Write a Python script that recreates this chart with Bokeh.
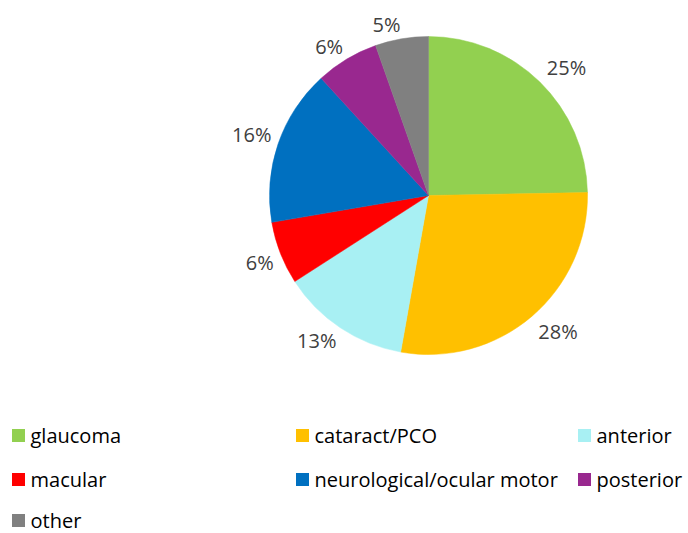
import math
from bokeh.plotting import figure
from bokeh.models import Range1d, ColumnDataSource
from bokeh.core.properties import value
from bokeh.embed import file_html
from bokeh.resources import INLINE

# ---- data ----
categories = ["glaucoma", "cataract/PCO", "anterior", "macular",
              "neurological/ocular motor", "posterior", "other"]
shares = [24.7, 28.1, 13.1, 6.4, 15.9, 6.4, 5.4]
pct_labels = ["25%", "28%", "13%", "6%", "16%", "6%", "5%"]
colors = ["#92D050", "#FFC000", "#A8F0F3", "#FF0000",
          "#0070C0", "#99288F", "#808080"]

W, H = 688, 533
FONT = "Open Sans"

p = figure(width=W, height=H, output_backend="svg", toolbar_location=None,
           x_range=Range1d(0, W), y_range=Range1d(0, H),
           min_border=0, x_axis_location=None, y_axis_location=None)
p.grid.visible = False
p.outline_line_color = None
p.background_fill_color = "white"
p.border_fill_color = "white"

# page coords: y_data = H - y_page
cx, cy, r = 428, H - 195, 159

total = sum(shares)
starts, ends, mids = [], [], []
acc = 0.0
for s in shares:
    a0 = math.pi / 2 - 2 * math.pi * acc / total
    acc += s
    a1 = math.pi / 2 - 2 * math.pi * acc / total
    starts.append(a1)
    ends.append(a0)
    mids.append((a0 + a1) / 2)

src = ColumnDataSource(dict(start=starts, end=ends, color=colors, cat=categories))
p.wedge(x=cx, y=cy, radius=r, start_angle="start", end_angle="end",
        fill_color="color", line_color="color", line_width=0.5, source=src)

# data labels (outside end)
for lab, th in zip(pct_labels, mids):
    c, s = math.cos(th), math.sin(th)
    gap = 10 if c > 0 else 7
    x = cx + (r + gap) * c
    y = cy + (r + gap) * s + (7 if s > 0 else -7)
    p.text(x=[x], y=[y], text=[lab], text_font=value(FONT),
           text_font_size="20px", text_color="#404040",
           text_align="left" if c > 0 else "right", text_baseline="middle")

# legend
col_x = [11, 295, 577]
row_y = [H - 435, H - 479, H - 520]
for i, (cat, col) in enumerate(zip(categories, colors)):
    cc, rr = i % 3, i // 3
    sx, sy = col_x[cc], row_y[rr]
    p.rect(x=[sx + 7], y=[sy], width=13, height=13, fill_color=col, line_color=None)
    p.text(x=[sx + 19], y=[sy], text=[cat], text_font=value(FONT),
           text_font_size="20px", text_color="#000000",
           text_align="left", text_baseline="middle")

open("out.html", "w").write(file_html(p, INLINE))
